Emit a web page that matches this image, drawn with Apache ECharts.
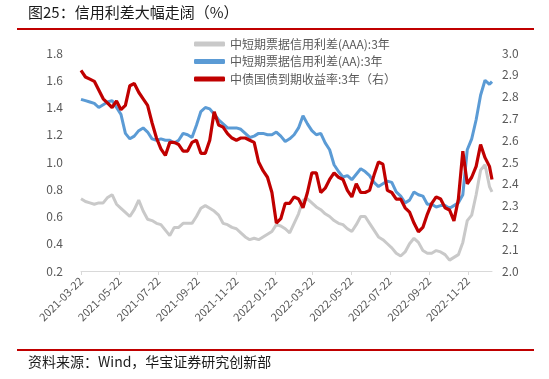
<!DOCTYPE html>
<html>
<head>
<meta charset="utf-8">
<script src="https://cdn.jsdelivr.net/npm/echarts@6/dist/echarts.min.js"></script>
<style>
  html, body { margin: 0; padding: 0; background: #fff; }
  #chart { width: 549px; height: 379px; }
</style>
</head>
<body>
<div id="chart"></div>
<script>
// one reading per week from startDate, the last one sits on endDate
const startDate = '2021-03-22';
const endDate = '2022-12-30';
const sampleStep = 7;

const names = ['中短期票据信用利差(AAA):3年', '中短期票据信用利差(AA):3年', '中债国债到期收益率:3年（右）'];

const aaa = [0.73, 0.71, 0.70, 0.69, 0.70, 0.70, 0.74, 0.76, 0.69, 0.66, 0.63, 0.60, 0.65, 0.72, 0.64, 0.58,
  0.57, 0.55, 0.54, 0.50, 0.46,
  0.52, 0.52, 0.55, 0.55, 0.55, 0.60, 0.66, 0.68, 0.66, 0.64,
  0.61, 0.55, 0.54, 0.52, 0.51, 0.48, 0.45, 0.43, 0.44, 0.43, 0.45, 0.47, 0.49, 0.54,
  0.53, 0.51, 0.48, 0.55, 0.62, 0.72, 0.73, 0.70, 0.67, 0.65, 0.62, 0.60, 0.57, 0.55, 0.54, 0.51, 0.49, 0.54, 0.60, 0.60, 0.55,
  0.50, 0.45, 0.43, 0.40, 0.37, 0.33, 0.31, 0.34, 0.40, 0.44, 0.41, 0.35, 0.33, 0.33, 0.35, 0.34, 0.32, 0.28, 0.30, 0.32,
  0.41, 0.57, 0.61, 0.76, 0.94, 0.98, 0.82, 0.78];

const aa = [1.46, 1.45, 1.44, 1.43, 1.40, 1.42, 1.44, 1.45, 1.40, 1.35, 1.21, 1.17, 1.19, 1.23, 1.25, 1.22, 1.17, 1.16, 1.17, 1.16, 1.16,
  1.14, 1.16, 1.21, 1.20, 1.18, 1.27, 1.37, 1.40, 1.39, 1.35, 1.31, 1.28, 1.25, 1.25, 1.25, 1.24, 1.21, 1.18, 1.19, 1.21, 1.21, 1.20, 1.20, 1.22,
  1.19, 1.15, 1.17, 1.20, 1.25, 1.34, 1.28, 1.23, 1.20, 1.21, 1.14, 1.09, 0.98, 0.93, 0.89, 0.90, 0.87, 0.91, 0.95, 0.93, 0.90,
  0.85, 0.82, 0.84, 0.86, 0.85, 0.78, 0.75, 0.70, 0.72, 0.78, 0.76, 0.75, 0.69, 0.69, 0.67, 0.68, 0.68, 0.66, 0.68, 0.70,
  0.76, 1.09, 1.17, 1.31, 1.49, 1.60, 1.57, 1.59];

const gov3y = [2.92, 2.89, 2.88, 2.87, 2.83, 2.79, 2.77, 2.75, 2.78, 2.74, 2.76, 2.85, 2.86, 2.82, 2.79, 2.76, 2.68, 2.61, 2.56, 2.53, 2.59,
  2.59, 2.58, 2.55, 2.55, 2.59, 2.60, 2.54, 2.54, 2.60, 2.73, 2.67, 2.66, 2.63, 2.61, 2.60, 2.61, 2.61, 2.60, 2.59, 2.50, 2.46, 2.43, 2.36, 2.22, 2.24, 2.31,
  2.31, 2.34, 2.33, 2.29, 2.36, 2.45, 2.45, 2.36, 2.38, 2.42, 2.45, 2.43, 2.42, 2.37, 2.34, 2.40, 2.36, 2.36, 2.37,
  2.44, 2.50, 2.49, 2.37, 2.36, 2.33, 2.33, 2.29, 2.27, 2.22, 2.18, 2.20, 2.26, 2.31, 2.34, 2.33, 2.29, 2.28, 2.23, 2.33,
  2.55, 2.40, 2.43, 2.48, 2.58, 2.52, 2.48, 2.42];

const font = 'Noto Sans CJK SC';
const DAY = 86400000;

// daily category axis, the ticks fall on the 22nd of every other month
const days = [];
for (let t = Date.parse(startDate + 'T00:00:00Z'); t <= Date.parse(endDate + 'T00:00:00Z'); t += DAY) {
  days.push(new Date(t).toISOString().slice(0, 10));
}
function onTick(index, value) {
  return value.slice(8) === '22' && (+value.slice(5, 7)) % 2 === 1;
}
function toSeries(vals) {
  const arr = days.map(() => null);
  vals.forEach((v, i) => {
    const idx = i === vals.length - 1 ? days.length - 1 : i * sampleStep;
    arr[idx] = v;
  });
  return arr;
}

let chart = echarts.init(document.getElementById('chart'));
chart.setOption({
  animation: false,
  textStyle: { fontFamily: font },
  grid: { left: 81, right: 57, top: 53, bottom: 108 },
  legend: {
    orient: 'vertical',
    left: 189,
    top: 33,
    itemWidth: 31,
    itemHeight: 5,
    itemGap: 5.5,
    icon: 'roundRect',
    textStyle: { fontFamily: font, fontSize: 12, color: '#595959' },
    data: names
  },
  xAxis: {
    type: 'category',
    data: days,
    boundaryGap: false,
    axisLine: { lineStyle: { color: '#d9d9d9', width: 1 } },
    axisTick: { interval: onTick, length: 4, lineStyle: { color: '#d9d9d9' } },
    axisLabel: { interval: onTick, rotate: 45, margin: 8, fontSize: 11, color: '#595959', fontFamily: font }
  },
  yAxis: [{
    type: 'value',
    min: 0.2,
    max: 1.8,
    interval: 0.2,
    splitLine: { show: false },
    axisLine: { show: false },
    axisTick: { show: false },
    axisLabel: { margin: 18, fontSize: 12, color: '#595959', fontFamily: font, formatter: v => v.toFixed(1) }
  }, {
    type: 'value',
    position: 'right',
    min: 2.0,
    max: 3.0,
    interval: 0.1,
    splitLine: { show: false },
    axisLine: { show: false },
    axisTick: { show: false },
    axisLabel: { margin: 10, fontSize: 12, color: '#595959', fontFamily: font, formatter: v => v.toFixed(1) }
  }],
  series: [{
    name: names[0],
    type: 'line',
    data: toSeries(aaa),
    symbol: 'none',
    connectNulls: true,
    itemStyle: { color: '#c9c9c9' },
    lineStyle: { color: '#c9c9c9', width: 3 }
  }, {
    name: names[1],
    type: 'line',
    data: toSeries(aa),
    symbol: 'none',
    connectNulls: true,
    itemStyle: { color: '#5b9bd5' },
    lineStyle: { color: '#5b9bd5', width: 3 }
  }, {
    name: names[2],
    type: 'line',
    yAxisIndex: 1,
    data: toSeries(gov3y),
    symbol: 'none',
    connectNulls: true,
    itemStyle: { color: '#c00000' },
    lineStyle: { color: '#c00000', width: 3.2 }
  }],
  graphic: [{
    type: 'text',
    left: 28,
    top: 5,
    style: { text: '图25：信用利差大幅走阔（%）', fontSize: 15, fontFamily: font, fill: '#1a1a1a' }
  }, {
    type: 'line',
    shape: { x1: 17, y1: 29, x2: 534, y2: 29 },
    style: { stroke: '#c00000', lineWidth: 2 }
  }, {
    type: 'line',
    shape: { x1: 17, y1: 350, x2: 534, y2: 350 },
    style: { stroke: '#c00000', lineWidth: 2 }
  }, {
    type: 'text',
    left: 28,
    top: 355,
    style: { text: '资料来源：Wind，华宝证券研究创新部', fontSize: 14, fontFamily: font, fill: '#1a1a1a' }
  }]
});
</script>
</body>
</html>
